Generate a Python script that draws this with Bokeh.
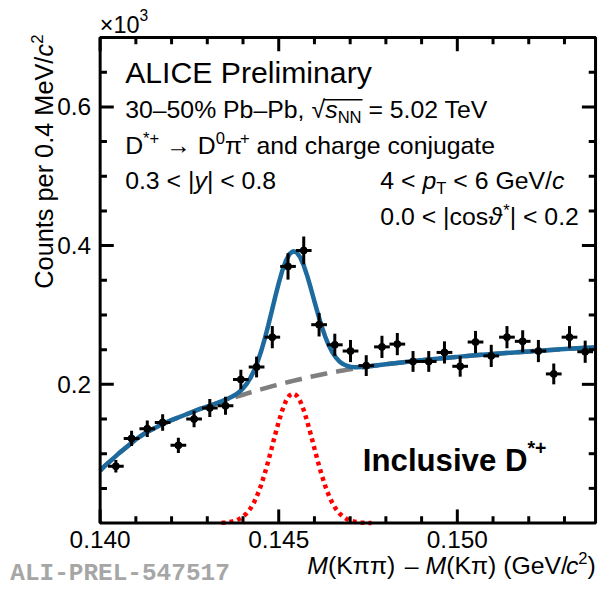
import math
from bokeh.plotting import figure
from bokeh.models import Label, Range1d
from bokeh.core.properties import value
from bokeh.embed import file_html
from bokeh.resources import INLINE

# ---------------- data (counts in units of 10^3) ----------------
mass = [0.14044, 0.14088, 0.14132, 0.14175, 0.14219, 0.14263, 0.14307, 0.14351,
        0.14394, 0.14438, 0.14482, 0.14526, 0.14570, 0.14613, 0.14657, 0.14701,
        0.14745, 0.14789, 0.14832, 0.14876, 0.14920, 0.14964, 0.15008, 0.15051,
        0.15095, 0.15139, 0.15183, 0.15227, 0.15270, 0.15314, 0.15358]
counts = [0.082, 0.122, 0.136, 0.145, 0.112, 0.150, 0.166, 0.169,
          0.207, 0.225, 0.268, 0.370, 0.393, 0.286, 0.257, 0.248,
          0.227, 0.254, 0.258, 0.233, 0.233, 0.246, 0.226, 0.261,
          0.241, 0.268, 0.262, 0.248, 0.215, 0.268, 0.247]
count_err = [0.009, 0.011, 0.012, 0.012, 0.011, 0.012, 0.013, 0.013,
             0.014, 0.015, 0.016, 0.019, 0.020, 0.017, 0.016, 0.016,
             0.015, 0.016, 0.016, 0.015, 0.015, 0.016, 0.015, 0.016,
             0.016, 0.016, 0.016, 0.016, 0.015, 0.016, 0.016]
bin_half_width = 0.00022

fit_mass = [0.1400, 0.1401, 0.1402, 0.1403, 0.1405, 0.1407, 0.1410, 0.1413,
            0.1416, 0.1420, 0.1424, 0.1428, 0.1432,
            0.1434, 0.1435, 0.1436, 0.1437, 0.1438, 0.1439, 0.1440, 0.1441,
            0.1442, 0.1443, 0.1444, 0.1445, 0.1446, 0.1447, 0.1448, 0.1449,
            0.1450, 0.1451, 0.1452, 0.1453, 0.1454, 0.1455, 0.1456, 0.1457,
            0.1458, 0.1459, 0.1460, 0.1461, 0.1462, 0.1463, 0.1464, 0.1465,
            0.1466, 0.1467, 0.1468, 0.1469, 0.1470, 0.1471, 0.1472, 0.1473,
            0.1474, 0.1475, 0.1476,
            0.1480, 0.1485, 0.1490, 0.1495, 0.1500, 0.1505, 0.1510, 0.1515,
            0.1520, 0.1525, 0.1530, 0.1535, 0.15387]
fit_background = [0.0755, 0.0810, 0.0855, 0.0900, 0.0995, 0.1080, 0.1205, 0.1310,
                  0.1390, 0.1485, 0.1565, 0.1645, 0.1715,
                  0.1750, 0.1768, 0.1785, 0.1802, 0.1818, 0.1834, 0.1850, 0.1866,
                  0.1882, 0.1897, 0.1912, 0.1927, 0.1942, 0.1956, 0.1970, 0.1984,
                  0.1998, 0.2011, 0.2024, 0.2037, 0.2050, 0.2062, 0.2074, 0.2086,
                  0.2098, 0.2109, 0.2120, 0.2131, 0.2142, 0.2152, 0.2162, 0.2172,
                  0.2182, 0.2191, 0.2200, 0.2209, 0.2218, 0.2226, 0.2234, 0.2242,
                  0.2250, 0.2257, 0.2264,
                  0.2290, 0.2320, 0.2348, 0.2373, 0.2396, 0.2418, 0.2438, 0.2457,
                  0.2475, 0.2492, 0.2508, 0.2523, 0.2534]
fit_total = [0.0755, 0.0810, 0.0855, 0.0900, 0.0995, 0.1080, 0.1205, 0.1310,
             0.1390, 0.1485, 0.1565, 0.1645, 0.1715,
             0.1754, 0.1775, 0.1798, 0.1824, 0.1854, 0.1893, 0.1942, 0.2005,
             0.2086, 0.2187, 0.2313, 0.2465, 0.2640, 0.2836, 0.3045, 0.3257,
             0.3460, 0.3639, 0.3782, 0.3878, 0.3920, 0.3903, 0.3832, 0.3714,
             0.3560, 0.3382, 0.3195, 0.3011, 0.2840, 0.2690, 0.2563, 0.2462,
             0.2386, 0.2330, 0.2292, 0.2268, 0.2254, 0.2248, 0.2247, 0.2249,
             0.2254, 0.2259, 0.2265,
             0.2290, 0.2320, 0.2348, 0.2373, 0.2396, 0.2418, 0.2438, 0.2457,
             0.2475, 0.2492, 0.2508, 0.2523, 0.2534]

signal_mass = [0.1434, 0.1435, 0.1436, 0.1437, 0.1438, 0.1439, 0.1440, 0.1441,
               0.1442, 0.1443, 0.1444, 0.1445, 0.1446, 0.1447, 0.1448, 0.1449,
               0.1450, 0.1451, 0.1452, 0.1453, 0.1454, 0.1455, 0.1456, 0.1457,
               0.1458, 0.1459, 0.1460, 0.1461, 0.1462, 0.1463, 0.1464, 0.1465,
               0.1466, 0.1467, 0.1468, 0.1469, 0.1470, 0.1471, 0.1472, 0.1473,
               0.1474, 0.1475, 0.1476]
signal_counts = [0.0004, 0.0007, 0.0013, 0.0022, 0.0036, 0.0059, 0.0092, 0.0139,
                 0.0204, 0.0290, 0.0401, 0.0538, 0.0698, 0.0880, 0.1075, 0.1273,
                 0.1462, 0.1628, 0.1758, 0.1841, 0.1870, 0.1841, 0.1758, 0.1628,
                 0.1462, 0.1273, 0.1075, 0.0880, 0.0698, 0.0538, 0.0401, 0.0290,
                 0.0204, 0.0139, 0.0092, 0.0059, 0.0036, 0.0022, 0.0013, 0.0007,
                 0.0004, 0.0002, 0.0001]

x_major = [0.140, 0.145, 0.150]
x_minor = [0.141, 0.142, 0.143, 0.144, 0.146, 0.147, 0.148, 0.149, 0.151, 0.152, 0.153]
y_major = [0.2, 0.4, 0.6]
y_minor = [0.05, 0.1, 0.15, 0.25, 0.3, 0.35, 0.45, 0.5, 0.55, 0.65]
x_tick_labels = [f"{t:.3f}" for t in x_major]
y_tick_labels = [f"{t:.1f}" for t in y_major]

# ---------------- geometry ----------------
X_START, X_END, Y_START, Y_END = 0.140, 0.15387, 0.0, 0.7
CW, CH = 600, 587           # canvas
RW, RH = 616, 603           # reference design size
K = CW / RW                 # font scale
X0, XS, Y0, YS = 102.3, 36670.0, 536.8, 712.5   # design px of x=0.140 / y=0, px per unit
BASE_SHIFT = 0.32           # label anchor correction (em)


def gx(px):
    return X_START + (px - X0) / XS


def gy(py):
    return (Y0 - py) / YS


FONT = "Liberation Sans"

p = figure(width=CW, height=CH,
           x_range=Range1d(gx(0), gx(RW)), y_range=Range1d(gy(RH), gy(0)),
           output_backend="svg", toolbar_location=None,
           x_axis_location=None, y_axis_location=None,
           min_border=0, min_border_left=0, min_border_right=0,
           min_border_top=0, min_border_bottom=0)
p.grid.visible = False
p.outline_line_color = None
p.background_fill_color = "white"
p.border_fill_color = "white"

# ---------------- curves ----------------
p.line(fit_mass, fit_background, line_color="#7f7f7f", line_width=4.5, line_dash="17 9")
p.line(signal_mass, signal_counts, line_color="#ff0000", line_width=4.5, line_dash="4 4")
p.line(fit_mass, fit_total, line_color="#1c6a9e", line_width=4.5)

# ---------------- data points ----------------
lo = [c - e for c, e in zip(counts, count_err)]
hi = [c + e for c, e in zip(counts, count_err)]
xl = [m - bin_half_width for m in mass]
xr = [m + bin_half_width for m in mass]
p.segment(x0=mass, y0=lo, x1=mass, y1=hi, line_color="black", line_width=3)
p.segment(x0=xl, y0=counts, x1=xr, y1=counts, line_color="black", line_width=3)
p.scatter(mass, counts, size=7, marker="circle", fill_color="black", line_color="black")

# ---------------- frame and ticks ----------------
p.quad(left=[X_START], right=[X_END], bottom=[Y_START], top=[Y_END],
       fill_color=None, line_color="black", line_width=3)
tmaj_y, tmin_y = 14 / YS, 7 / YS
tmaj_x, tmin_x = 14 / XS, 7 / XS
for ticks, ly in ((x_major, tmaj_y), (x_minor, tmin_y)):
    p.segment(x0=ticks, y0=[Y_START] * len(ticks), x1=ticks, y1=[Y_START + ly] * len(ticks),
              line_color="black", line_width=3)
    p.segment(x0=ticks, y0=[Y_END] * len(ticks), x1=ticks, y1=[Y_END - ly] * len(ticks),
              line_color="black", line_width=3)
for ticks, lx in ((y_major, tmaj_x), (y_minor, tmin_x)):
    p.segment(x0=[X_START] * len(ticks), y0=ticks, x1=[X_START + lx] * len(ticks), y1=ticks,
              line_color="black", line_width=3)
    p.segment(x0=[X_END] * len(ticks), y0=ticks, x1=[X_END - lx] * len(ticks), y1=ticks,
              line_color="black", line_width=3)

p.text(x=x_major, y=[gy(545)] * len(x_major), text=x_tick_labels,
       text_font=value(FONT), text_font_size=value(f"{25 * K:.1f}px"),
       text_align="center", text_baseline="top", text_color="black")
p.text(x=[gx(93)] * len(y_major), y=y_major, text=y_tick_labels,
       text_font=value(FONT), text_font_size=value(f"{25 * K:.1f}px"),
       text_align="right", text_baseline="middle", text_color="black")

# ---------------- texts ----------------
ADV = {' ': 278, '%': 889, '(': 333, ')': 333, '*': 389, '+': 584, ',': 278, '-': 333,
       '.': 278, '/': 278, '<': 584, '=': 584, '|': 260, 'A': 667, 'C': 722, 'D': 722,
       'E': 667, 'G': 778, 'I': 278, 'K': 667, 'L': 556, 'M': 833, 'N': 722, 'P': 667,
       'T': 611, 'V': 667, 'a': 556, 'b': 556, 'c': 500, 'd': 556, 'e': 556, 'g': 556,
       'h': 556, 'i': 222, 'j': 222, 'l': 222, 'm': 833, 'n': 556, 'o': 556, 'p': 556,
       'r': 333, 's': 500, 't': 278, 'u': 556, 'v': 500, 'y': 500,
       '\u2013': 556, '\u00d7': 584, '\u221a': 549, '\u2192': 1000, '\u03c0': 600,
       '\u03d1': 600}
ADV_BOLD = {' ': 278, '*': 389, '+': 584, 'D': 722, 'I': 278, 'c': 556, 'e': 556,
            'i': 278, 'l': 278, 'n': 611, 's': 556, 'u': 611, 'v': 556}


def advance(text, size, bold=False):
    table = ADV_BOLD if bold else ADV
    return sum(table.get(ch, 556) for ch in text) * size / 1000.0


def put(text, px, py, size, style="normal", font=FONT, color="black", angle=0.0):
    if angle == 0.0:
        py = py - BASE_SHIFT * size
    else:
        px = px - BASE_SHIFT * size
    p.add_layout(Label(x=gx(px), y=gy(py), text=text, text_font=font,
                       text_font_size=f"{size * K:.1f}px", text_font_style=style,
                       text_color=color, text_baseline="alphabetic",
                       text_align="left", angle=angle))


def flow(pieces, px, py):
    for text, size, style, shift in pieces:
        bold = "bold" in style
        core = text.strip(" ")
        lead = len(text) - len(text.lstrip(" "))
        trail = len(text) - len(text.rstrip(" "))
        px += advance(" " * lead, size, bold)
        put(core, px, py + shift, size, style)
        px += advance(core, size, bold) + advance(" " * trail, size, bold)
    return px


S, SS = 25.5, 17   # body text size, sub/superscript size

put("ALICE Preliminary", 128, 84, 31)

x_sqrt = flow([("30\u201350% Pb\u2013Pb, ", S, "normal", 0)], 128, 120)
flow([("\u221a", S, "normal", 0), ("s", S, "italic", 0), ("NN", SS, "normal", 6),
      (" = 5.02 TeV", S, "normal", 0)], x_sqrt, 120)
x_s0 = x_sqrt + advance("\u221a", S)
x_s1 = x_s0 + advance("s", S) + advance("NN", SS)
p.segment(x0=[gx(x_s0 - 1.5)], y0=[gy(102)], x1=[gx(x_s1 + 1)], y1=[gy(102)],
          line_color="black", line_width=1.5)

flow([("D", S, "normal", 0), ("*+", SS, "normal", -10), (" \u2192 D", S, "normal", 0),
      ("0", SS, "normal", -10), ("\u03c0", S, "normal", 0), ("+", SS, "normal", -10),
      (" and charge conjugate", S, "normal", 0)], 128, 157)

flow([("0.3 < |", S, "normal", 0), ("y", S, "italic", 0), ("| < 0.8", S, "normal", 0)], 128, 193)
flow([("4 < ", S, "normal", 0), ("p", S, "italic", 0), ("T", SS, "normal", 6),
      (" < 6 GeV/", S, "normal", 0), ("c", S, "italic", 0)], 390, 193)
flow([("0.0 < |cos", S, "normal", 0), ("\u03d1", S, "italic", 0), ("*", SS, "normal", -9),
      ("| < 0.2", S, "normal", 0)], 390, 230)

flow([("Inclusive D", 32, "bold", 0), ("*+", 20, "bold", -17)], 372, 483)

# axis multiplier
flow([("\u00d710", 24, "normal", 0), ("3", 16, "normal", -13)], 102, 33)

# x-axis title
XT = 25.5
flow([("M", XT, "italic", 0), ("(K\u03c0\u03c0)", XT, "normal", 0),
      ("  \u2013 ", XT, "normal", 0),
      ("M", XT, "italic", 0), ("(K\u03c0) (GeV/", XT, "normal", 0),
      ("c", XT, "italic", 0), ("2", 17, "normal", -11), (")", XT, "normal", 0)], 315, 589)

# y-axis title (rotated, reading upwards)
YT = 26
y_top = 296 - advance("Counts per 0.4 MeV/", YT)
put("Counts per 0.4 MeV/", 53, 296, YT, angle=math.pi / 2)
put("c", 53, y_top, YT, "italic", angle=math.pi / 2)
put("2", 43, y_top - advance("c", YT), 17, angle=math.pi / 2)

# preliminary tag
put("ALI-PREL-547517", 10, 597, 25, "bold", font="Liberation Mono", color="#a6a6a6")

open("out.html", "w").write(file_html(p, INLINE))
